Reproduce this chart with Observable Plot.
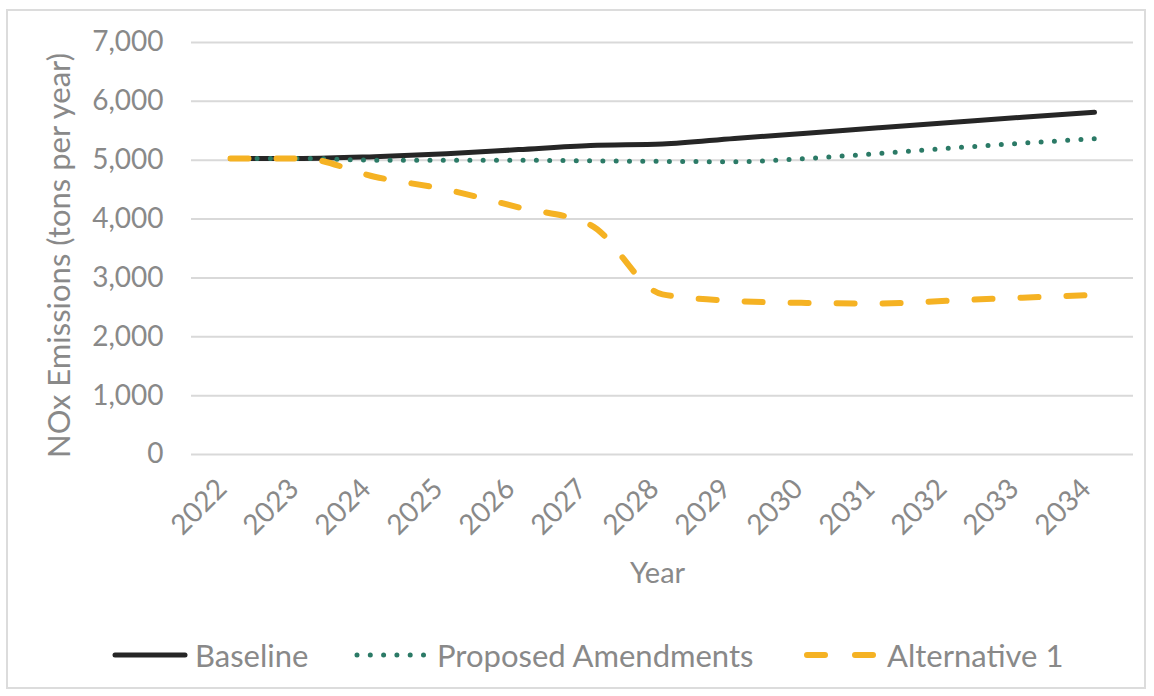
<!DOCTYPE html>
<html>
<head>
<meta charset="utf-8">
<script src="https://cdn.jsdelivr.net/npm/d3@7"></script>
<script src="https://cdn.jsdelivr.net/npm/@observablehq/plot@0.6"></script>
<style>
  html, body { margin: 0; padding: 0; background: #fff; }
  #frame { position: absolute; left: 6px; top: 9px; width: 1140px; height: 680px; border: 2px solid #dcdcdc; box-sizing: border-box; }
  #chart { position: absolute; left: 0; top: 0; }
  #legend { position: absolute; left: 0; top: 632px; width: 1154px; height: 46px; font-family: Lato, "Open Sans", sans-serif; font-size: 31px; color: #898989; }
  .item { position: absolute; top: 0; display: flex; align-items: center; height: 46px; }
  .item svg { margin-right: 4px; }
</style>
</head>
<body>
<div id="frame"></div>
<div id="chart"></div>
<div id="legend"></div>
<script>
const years = ["2022","2023","2024","2025","2026","2027","2028","2029","2030","2031","2032","2033","2034"];
const baseline = [5030, 5030, 5060, 5110, 5180, 5250, 5275, 5370, 5460, 5550, 5640, 5730, 5815];
const proposed = [5030, 5030, 5000, 5000, 5000, 4990, 4980, 4975, 5030, 5115, 5205, 5290, 5365];
const alternative = [5030, 5030, 4720, 4500, 4200, 3900, 2720, 2610, 2575, 2565, 2615, 2665, 2710];
const seriesNames = ["Baseline", "Proposed Amendments", "Alternative 1"];
const yTicks = [0, 1000, 2000, 3000, 4000, 5000, 6000, 7000];
const yLabel = "NOx Emissions (tons per year)";
const xLabel = "Year";

const colors = {"Baseline": "#262626", "Proposed Amendments": "#2b7a66", "Alternative 1": "#f5b223"};
const styles = {
  "Baseline": {strokeWidth: 5, dash: null},
  "Proposed Amendments": {strokeWidth: 5, dash: "0 13.3"},
  "Alternative 1": {strokeWidth: 6, dash: "18 28"}
};

const allSeries = [baseline, proposed, alternative];
const rows = [];
seriesNames.forEach((s, i) => years.forEach((y, j) => rows.push({series: s, year: y, value: allSeries[i][j]})));

const font = "Lato, 'Open Sans', sans-serif";
const gray = "#898989";

const lineMarks = seriesNames.map(s => Plot.line(rows.filter(r => r.series === s), {
  x: "year", y: "value", stroke: colors[s], strokeWidth: styles[s].strokeWidth,
  strokeDasharray: styles[s].dash, strokeLinecap: "round", strokeLinejoin: "round",
  curve: "monotone-x"
}));

const chart = Plot.plot({
  width: 1154,
  height: 610,
  marginTop: 42,
  marginBottom: 156,
  marginLeft: 191,
  marginRight: 21,
  style: {fontFamily: font, background: "transparent", overflow: "visible"},
  x: {type: "point", domain: years, padding: 0.5, axis: null},
  y: {domain: [0, 7000], axis: null},
  marks: [
    Plot.ruleY(yTicks, {stroke: "#d9d9d9", strokeWidth: 2}),
    Plot.text(yTicks, {frameAnchor: "left", y: d => d, text: d => d3.format(",")(d), textAnchor: "end", dx: -28, fontSize: 28, fill: gray}),
    Plot.text(years, {x: d => d, frameAnchor: "bottom", text: d => d, rotate: -45, textAnchor: "end", dx: -2, dy: 36, fontSize: 28, fill: gray}),
    Plot.text([yLabel], {frameAnchor: "left", text: d => d, rotate: -90, textAnchor: "middle", dx: -131, dy: 7, fontSize: 31, fill: gray}),
    Plot.text([xLabel], {frameAnchor: "bottom", text: d => d, textAnchor: "middle", dy: 128, dx: -5, fontSize: 29, fill: gray}),
    ...lineMarks
  ]
});
document.getElementById("chart").appendChild(chart);

// Legend
const legendPos = [115, 357, 807];
const legend = document.getElementById("legend");
seriesNames.forEach((s, i) => {
  const div = document.createElement("div");
  div.className = "item";
  div.style.left = (legendPos[i] - 4) + "px";
  const st = styles[s];
  div.innerHTML = `<svg width="80" height="20"><line x1="4" y1="10" x2="74" y2="10" stroke="${colors[s]}" stroke-width="${st.strokeWidth}" stroke-linecap="round" ${st.dash ? `stroke-dasharray="${s === "Alternative 1" ? "18 30" : st.dash}"` : ""}></line></svg><span>${s}</span>`;
  legend.appendChild(div);
});
</script>
</body>
</html>
